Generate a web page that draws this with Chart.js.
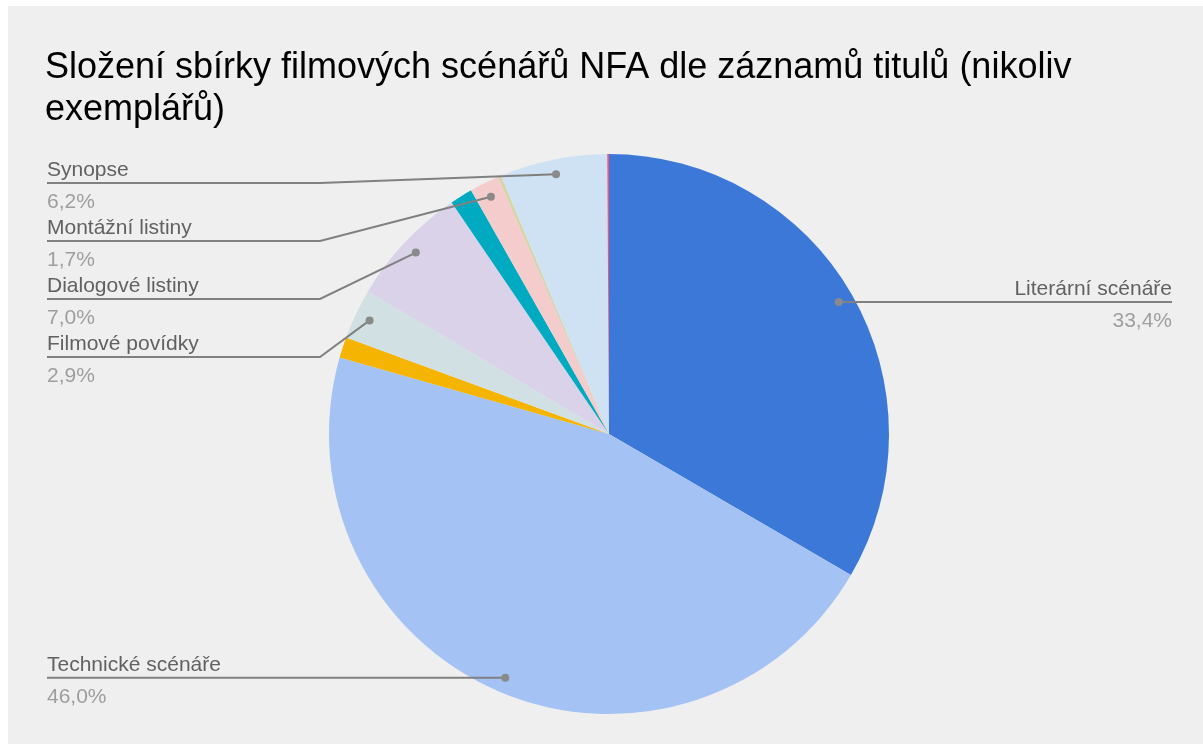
<!DOCTYPE html>
<html>
<head>
<meta charset="utf-8">
<script src="https://cdn.jsdelivr.net/npm/chart.js@4.4.0/dist/chart.umd.min.js"></script>
<style>
  html, body { margin: 0; padding: 0; background: #ffffff; }
  #bg { position: absolute; left: 8px; top: 6px; right: 0; bottom: 0; background: #efefef; }
  #wrap { position: absolute; left: 0; top: 0; width: 1203px; height: 744px; }
</style>
</head>
<body>
<div id="bg"></div>
<div id="wrap"><canvas id="chart"></canvas></div>
<script>
// Data (percent of title records)
const categories = [
    'Literární scénáře',
    'Technické scénáře',
    'Ostatní 1',
    'Filmové povídky',
    'Dialogové listiny',
    'Ostatní 2',
    'Montážní listiny',
    'Ostatní 3',
    'Synopse',
    'Ostatní 4'
];
const values = [33.4, 46.0, 1.2, 2.9, 7.0, 1.3, 1.7, 0.2, 6.2, 0.1];
const percentLabels = ['33,4%', '46,0%', '', '2,9%', '7,0%', '', '1,7%', '', '6,2%', ''];
const showLabel = [true, true, false, true, true, false, true, false, true, false];
const colors = ['#3c78d8', '#a4c2f4', '#f4b400', '#d0e0e3', '#d9d2e9',
                '#00abc1', '#f4cccc', '#d6d4a8', '#cfe2f3', '#f2557f'];

const titleLines = [
    'Složení sbírky filmových scénářů NFA dle záznamů titulů (nikoliv',
    'exemplářů)'
];

const FONT = '"Liberation Sans", Arial, sans-serif';

const labelPlugin = {
    id: 'leaderLabels',
    afterDraw(chart) {
        const ctx = chart.ctx;
        ctx.save();

        // title
        ctx.fillStyle = '#000000';
        ctx.font = '36px ' + FONT;
        ctx.textAlign = 'left';
        ctx.textBaseline = 'alphabetic';
        titleLines.forEach((line, i) => ctx.fillText(line, 45, 78 + i * 42));

        const arcs = chart.getDatasetMeta(0).data;
        const left = [], right = [];
        arcs.forEach((arc, i) => {
            if (!showLabel[i]) return;
            const p = arc.getProps(['x', 'y', 'startAngle', 'endAngle', 'outerRadius'], true);
            const mid = (p.startAngle + p.endAngle) / 2;
            const r = p.outerRadius - 15;
            const item = { i, x: p.x + Math.cos(mid) * r, y: p.y + Math.sin(mid) * r };
            (item.x < p.x ? left : right).push(item);
        });

        // stack labels on each side so they don't overlap
        const stack = list => {
            list.sort((a, b) => a.y - b.y);
            let prev = -Infinity;
            list.forEach(it => {
                it.ly = Math.max(it.y, prev + 58, 183);
                prev = it.ly;
            });
        };
        stack(left);
        stack(right);

        const drawLabel = (it, side) => {
            ctx.strokeStyle = '#808080';
            ctx.lineWidth = 2;
            ctx.beginPath();
            if (side === 'left') {
                ctx.moveTo(47, it.ly);
                ctx.lineTo(320, it.ly);
                ctx.lineTo(it.x, it.y);
            } else {
                ctx.moveTo(it.x, it.y);
                ctx.lineTo(it.x, it.ly);
                ctx.lineTo(1172, it.ly);
            }
            ctx.stroke();

            ctx.fillStyle = '#8a8a8a';
            ctx.beginPath();
            ctx.arc(it.x, it.y, 4, 0, Math.PI * 2);
            ctx.fill();

            ctx.font = '21px ' + FONT;
            ctx.textAlign = side === 'left' ? 'left' : 'right';
            const tx = side === 'left' ? 47 : 1172;
            ctx.fillStyle = '#616161';
            ctx.fillText(categories[it.i], tx, it.ly - 7);
            ctx.fillStyle = '#9e9e9e';
            ctx.fillText(percentLabels[it.i], tx, it.ly + 25);
        };
        left.forEach(it => drawLabel(it, 'left'));
        right.forEach(it => drawLabel(it, 'right'));

        ctx.restore();
    }
};

new Chart(document.getElementById('chart'), {
    type: 'pie',
    data: {
        labels: categories,
        datasets: [{
            data: values,
            backgroundColor: colors,
            borderWidth: 0
        }]
    },
    options: {
        responsive: true,
        maintainAspectRatio: false,
        animation: false,
        layout: { padding: { top: 154, bottom: 30, left: 329, right: 314 } },
        plugins: {
            legend: { display: false },
            title: { display: false },
            tooltip: { enabled: false }
        }
    },
    plugins: [labelPlugin]
});
</script>
</body>
</html>
